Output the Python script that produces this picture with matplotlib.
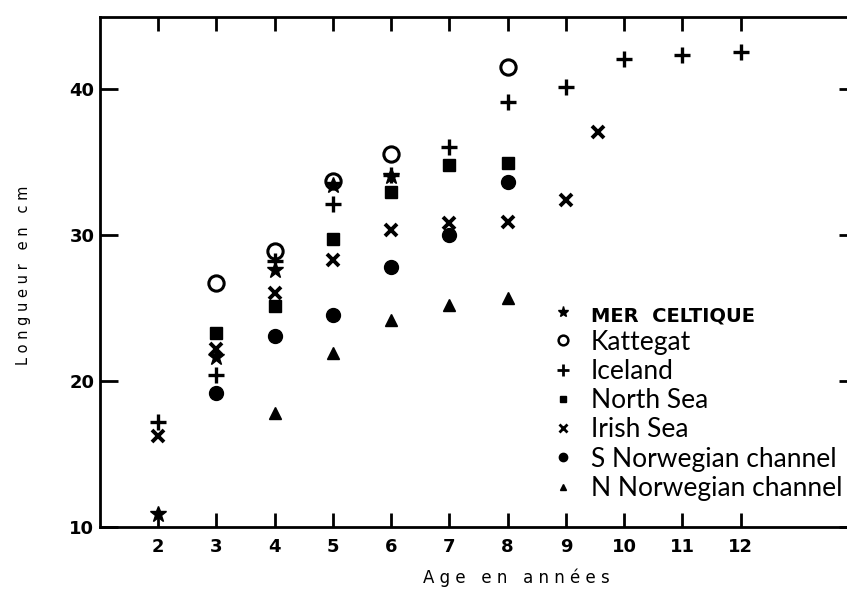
import matplotlib
matplotlib.use('Agg')
import matplotlib.pyplot as plt
from matplotlib.lines import Line2D

# age (years) / length (cm) for each stock
celtic_age = [2, 3, 4, 5, 6]
celtic_len = [10.9, 21.6, 27.6, 33.4, 34.0]

kattegat_age = [3, 4, 5, 6, 8]
kattegat_len = [26.7, 28.9, 33.7, 35.5, 41.5]

iceland_age = [2, 3, 4, 5, 6, 7, 8, 9, 10, 11, 12]
iceland_len = [17.2, 20.4, 28.2, 32.1, 34.1, 36.0, 39.1, 40.1, 42.0, 42.3, 42.5]

northsea_age = [3, 4, 5, 6, 7, 8]
northsea_len = [23.3, 25.1, 29.7, 32.9, 34.8, 34.9]

irish_age = [2, 3, 4, 5, 6, 7, 8, 9, 9.55]
irish_len = [16.2, 22.2, 26.0, 28.3, 30.3, 30.8, 30.9, 32.4, 37.0]

snorw_age = [3, 4, 5, 6, 7, 8]
snorw_len = [19.2, 23.1, 24.5, 27.8, 30.0, 33.6]

nnorw_age = [4, 5, 6, 7, 8]
nnorw_len = [17.8, 21.9, 24.2, 25.2, 25.7]

labels = ['MER  CELTIQUE', 'Kattegat', 'Iceland', 'North Sea', 'Irish Sea',
          'S Norwegian channel', 'N Norwegian channel']
xticks = [2, 3, 4, 5, 6, 7, 8, 9, 10, 11, 12]
yticks = [10, 20, 30, 40]

fig = plt.figure(figsize=(8.47, 5.93), dpi=100)
ax = fig.add_axes([0.118, 0.1113, 0.894, 0.860])

k = 'black'
ax.plot(kattegat_age, kattegat_len, 'o', ms=11, mfc='white', mec=k, mew=2.2, ls='none')
ax.plot(celtic_age, celtic_len, '*', ms=12, color=k, ls='none')
ax.plot(iceland_age, iceland_len, '+', ms=12, mew=2.4, color=k, ls='none')
ax.plot(northsea_age, northsea_len, 's', ms=8, color=k, ls='none')
ax.plot(irish_age, irish_len, 'x', ms=9, mew=2.8, color=k, ls='none')
ax.plot(snorw_age, snorw_len, 'o', ms=10, color=k, ls='none')
ax.plot(nnorw_age, nnorw_len, '^', ms=8, color=k, ls='none')

ax.set_xlim(1, 14)
ax.set_ylim(10, 44.9)
ax.set_xticks(xticks)
ax.set_yticks(yticks)
ax.tick_params(direction='in', length=10, width=2, top=True, right=True,
               labelsize=13, pad=8)
ax.tick_params(axis='y', length=13, pad=4)
for lab in ax.get_xticklabels() + ax.get_yticklabels():
    lab.set_fontfamily('DejaVu Sans')
    lab.set_fontweight('bold')
for s in ax.spines.values():
    s.set_linewidth(2)

# legend
handles = [
    Line2D([], [], marker='*', ms=8, color=k, ls='none'),
    Line2D([], [], marker='o', ms=7, mfc='white', mec=k, mew=1.8, ls='none'),
    Line2D([], [], marker='+', ms=9, mew=2, color=k, ls='none'),
    Line2D([], [], marker='s', ms=5, color=k, ls='none'),
    Line2D([], [], marker='x', ms=6, mew=2, color=k, ls='none'),
    Line2D([], [], marker='o', ms=6, color=k, ls='none'),
    Line2D([], [], marker='^', ms=5, color=k, ls='none'),
]
leg = ax.legend(handles, labels, loc='upper left', bbox_to_anchor=(0.587, 0.46),
                frameon=False, handlelength=0.6, handletextpad=0.75,
                labelspacing=0.16, prop={'family': 'Lato', 'size': 19},
                borderaxespad=0)
t0 = leg.get_texts()[0]
t0.set_fontfamily('Liberation Sans Narrow')
t0.set_fontweight('bold')
t0.set_fontsize(14)

fig.text(0.028, 0.536, 'L o n g u e u r   e n   c m', rotation=90,
         ha='center', va='center', fontsize=10.5, family='DejaVu Sans')
fig.text(0.61, 0.026, 'A g e   e n   a n n é e s', ha='center', va='center',
         fontsize=12, family='DejaVu Sans')

fig.savefig('out.png', dpi=100)
